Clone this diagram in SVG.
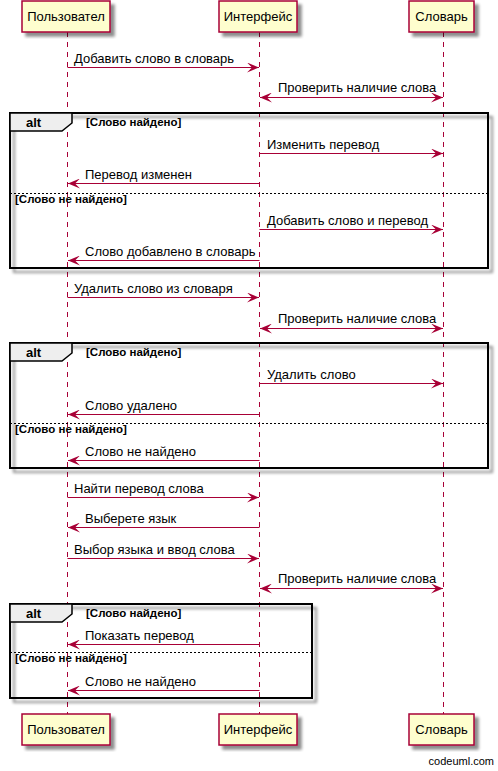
<svg xmlns="http://www.w3.org/2000/svg" width="498" height="771" viewBox="0 0 498 771">
<defs>
<filter id="sh" x="-10%" y="-10%" width="130%" height="130%">
<feGaussianBlur in="SourceAlpha" stdDeviation="1.6"/>
<feOffset dx="3.5" dy="3.5" result="b"/>
<feComponentTransfer><feFuncA type="linear" slope="0.45"/></feComponentTransfer>
<feMerge><feMergeNode/><feMergeNode in="SourceGraphic"/></feMerge>
</filter>
<marker id="ah" viewBox="0 0 12 10" refX="12" refY="5" markerWidth="12" markerHeight="10" markerUnits="userSpaceOnUse" orient="auto-start-reverse">
<polygon points="0,0 12,5 0,10 5,5" fill="#A80036"/>
</marker>
</defs>
<style>
.pbox{fill:#FEFECE;stroke:#A80036;stroke-width:1.5}
.ptxt{font-family:"Liberation Sans",Arial,sans-serif;font-size:13px;fill:#000;text-anchor:middle}
.life{stroke:#A80036;stroke-width:1;stroke-dasharray:5,5;fill:none}
.msg{stroke:#A80036;stroke-width:1;fill:none}
.mtxt{font-family:"Liberation Sans",Arial,sans-serif;font-size:13px;fill:#000}
.frame{fill:none;stroke:#000;stroke-width:2}
.tab{fill:#EEEEEE;stroke:#000;stroke-width:1.5}
.sep{stroke:#000;stroke-width:1;stroke-dasharray:2,2}
.alt{font-family:"Liberation Sans",Arial,sans-serif;font-size:13px;font-weight:bold;fill:#000}
.grd{font-family:"Liberation Sans",Arial,sans-serif;font-size:11.5px;font-weight:bold;fill:#000}
</style>
<rect width="498" height="771" fill="#fff"/>

<g id="lifelines">
<line class="life" x1="67.5" y1="32" x2="67.5" y2="714"/>
<line class="life" x1="259.5" y1="32" x2="259.5" y2="714"/>
<line class="life" x1="443.5" y1="32" x2="443.5" y2="714"/>
</g>

<g id="alt1">
<rect class="frame" x="10" y="113" width="478" height="155" filter="url(#sh)"/>
<polygon class="tab" points="10,113 72,113 72,123 62,131 10,131"/>
<text class="alt" x="26" y="127">alt</text>
<text class="grd" x="86" y="126">[Слово найдено]</text>
<line class="sep" x1="10" y1="193.5" x2="488" y2="193.5"/>
<text class="grd" x="15" y="203">[Слово не найдено]</text>
</g>

<g id="alt2">
<rect class="frame" x="10" y="343" width="478" height="125" filter="url(#sh)"/>
<polygon class="tab" points="10,343 72,343 72,353 62,361 10,361"/>
<text class="alt" x="26" y="357">alt</text>
<text class="grd" x="86" y="356">[Слово найдено]</text>
<line class="sep" x1="10" y1="423.5" x2="488" y2="423.5"/>
<text class="grd" x="15" y="433">[Слово не найдено]</text>
</g>

<g id="alt3">
<rect class="frame" x="10" y="604" width="302" height="94" filter="url(#sh)"/>
<polygon class="tab" points="10,604 72,604 72,614 62,622 10,622"/>
<text class="alt" x="26" y="618">alt</text>
<text class="grd" x="86" y="617">[Слово найдено]</text>
<line class="sep" x1="10" y1="652.5" x2="312" y2="652.5"/>
<text class="grd" x="15" y="662">[Слово не найдено]</text>
</g>

<g id="connectors">
<line class="msg" x1="67.5" y1="67.5" x2="259" y2="67.5" marker-end="url(#ah)"/>
<text class="mtxt" x="74" y="63">Добавить слово в словарь</text>

<line class="msg" x1="260" y1="97.5" x2="443" y2="97.5" marker-start="url(#ah)" marker-end="url(#ah)"/>
<text class="mtxt" x="278" y="92">Проверить наличие слова</text>

<line class="msg" x1="259.5" y1="153.5" x2="443" y2="153.5" marker-end="url(#ah)"/>
<text class="mtxt" x="267" y="149">Изменить перевод</text>

<line class="msg" x1="259.5" y1="183.5" x2="68" y2="183.5" marker-end="url(#ah)"/>
<text class="mtxt" x="85" y="179">Перевод изменен</text>

<line class="msg" x1="259.5" y1="229.5" x2="443" y2="229.5" marker-end="url(#ah)"/>
<text class="mtxt" x="267" y="225">Добавить слово и перевод</text>

<line class="msg" x1="259.5" y1="260.5" x2="68" y2="260.5" marker-end="url(#ah)"/>
<text class="mtxt" x="85" y="256">Слово добавлено в словарь</text>

<line class="msg" x1="67.5" y1="297.5" x2="259" y2="297.5" marker-end="url(#ah)"/>
<text class="mtxt" x="74" y="293">Удалить слово из словаря</text>

<line class="msg" x1="260" y1="328.5" x2="443" y2="328.5" marker-start="url(#ah)" marker-end="url(#ah)"/>
<text class="mtxt" x="278" y="323">Проверить наличие слова</text>

<line class="msg" x1="259.5" y1="383.5" x2="443" y2="383.5" marker-end="url(#ah)"/>
<text class="mtxt" x="267" y="379">Удалить слово</text>

<line class="msg" x1="259.5" y1="414.5" x2="68" y2="414.5" marker-end="url(#ah)"/>
<text class="mtxt" x="85" y="410">Слово удалено</text>

<line class="msg" x1="259.5" y1="460.5" x2="68" y2="460.5" marker-end="url(#ah)"/>
<text class="mtxt" x="85" y="456">Слово не найдено</text>

<line class="msg" x1="67.5" y1="497.5" x2="259" y2="497.5" marker-end="url(#ah)"/>
<text class="mtxt" x="74" y="493">Найти перевод слова</text>

<line class="msg" x1="259.5" y1="527.5" x2="68" y2="527.5" marker-end="url(#ah)"/>
<text class="mtxt" x="85" y="523">Выберете язык</text>

<line class="msg" x1="67.5" y1="558.5" x2="259" y2="558.5" marker-end="url(#ah)"/>
<text class="mtxt" x="74" y="554">Выбор языка и ввод слова</text>

<line class="msg" x1="260" y1="588.5" x2="443" y2="588.5" marker-start="url(#ah)" marker-end="url(#ah)"/>
<text class="mtxt" x="278" y="583">Проверить наличие слова</text>

<line class="msg" x1="259.5" y1="644.5" x2="68" y2="644.5" marker-end="url(#ah)"/>
<text class="mtxt" x="85" y="640">Показать перевод</text>

<line class="msg" x1="259.5" y1="690.5" x2="68" y2="690.5" marker-end="url(#ah)"/>
<text class="mtxt" x="85" y="686">Слово не найдено</text>
</g>

<g id="user-top"><rect class="pbox" x="22" y="1" width="88" height="31" filter="url(#sh)"/><text class="ptxt" x="66" y="21">Пользовател</text></g>
<g id="ui-top"><rect class="pbox" x="219" y="1" width="78" height="31" filter="url(#sh)"/><text class="ptxt" x="258" y="21">Интерфейс</text></g>
<g id="dict-top"><rect class="pbox" x="409" y="1" width="65" height="31" filter="url(#sh)"/><text class="ptxt" x="441.5" y="21">Словарь</text></g>

<g id="user-bottom"><rect class="pbox" x="22" y="714" width="88" height="31" filter="url(#sh)"/><text class="ptxt" x="66" y="734">Пользовател</text></g>
<g id="ui-bottom"><rect class="pbox" x="219" y="714" width="78" height="31" filter="url(#sh)"/><text class="ptxt" x="258" y="734">Интерфейс</text></g>
<g id="dict-bottom"><rect class="pbox" x="409" y="714" width="65" height="31" filter="url(#sh)"/><text class="ptxt" x="441.5" y="734">Словарь</text></g>

<text x="494" y="765" text-anchor="end" style="font-family:'Liberation Sans',Arial,sans-serif;font-size:11px;fill:#000">codeuml.com</text>
</svg>
